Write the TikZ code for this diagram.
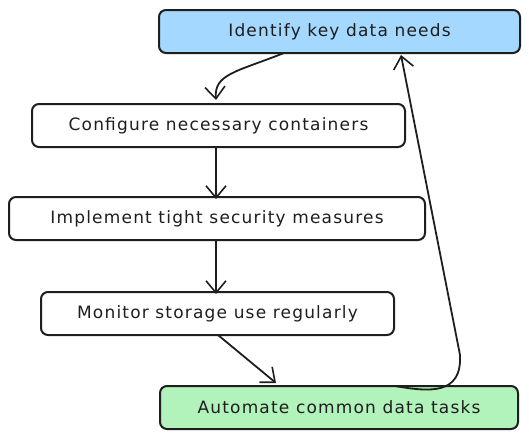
\documentclass[tikz,border=0pt]{standalone}
\usepackage{fontspec}
\setmainfont{DejaVu Sans}[LetterSpace=7]
\usetikzlibrary{arrows.meta}
\definecolor{bluefill}{HTML}{A5D8FF}
\definecolor{greenfill}{HTML}{B2F2BB}
\definecolor{ink}{HTML}{1E1E1E}
\begin{document}
\begin{tikzpicture}[x=1pt,y=-1pt,
  box/.style={draw=ink, line width=2pt, rounded corners=7pt, inner sep=0pt, font=\fontsize{17}{20}\selectfont, text=ink},
  conn/.style={draw=ink, line width=1.8pt, -{Straight Barb[length=12pt,width=20pt,line width=1.6pt]}}]
\useasboundingbox (0,0) rectangle (529,440);
\node[box, fill=bluefill, minimum width=361pt, minimum height=43pt] (n1) at (339.5,31.5) {Identify key data needs};
\node[box, minimum width=373pt, minimum height=43pt] (n2) at (218.5,125.5) {Configure necessary containers};
\node[box, minimum width=416pt, minimum height=43pt] (n3) at (217,218.5) {Implement tight security measures};
\node[box, minimum width=353pt, minimum height=43pt] (n4) at (217.5,313.5) {Monitor storage use regularly};
\node[box, fill=greenfill, minimum width=358pt, minimum height=43pt] (n5) at (339,407.5) {Automate common data tasks};
\coordinate (a1) at (284,53);
\coordinate (b1) at (216,100);
\draw[conn] (a1) .. controls (236,72) and (214,74) .. (b1);
\draw[conn] (n2.south -| 216,0) -- ([yshift=-3pt]n3.north -| 216,0);
\draw[conn] (n3.south -| 216,0) -- ([yshift=-3pt]n4.north -| 216,0);
\coordinate (a4) at (218,335);
\coordinate (b4) at (276,383);
\draw[conn] (a4) -- (b4);
\coordinate (a5) at (395,386);
\coordinate (b5) at (401,55);
\draw[conn] (a5) .. controls (430,392) and (462,395) .. (460,355) -- (b5);
\end{tikzpicture}
\end{document}
